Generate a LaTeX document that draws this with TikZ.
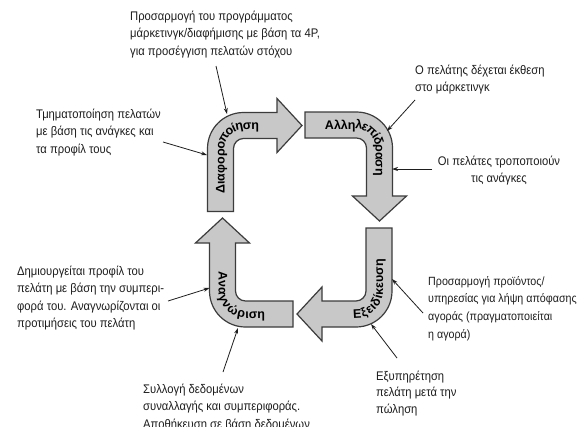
\documentclass[tikz,border=0pt]{standalone}
\usepackage{fontspec}
\setmainfont{Liberation Sans}[FakeStretch=0.9]
\newfontfamily\bandfont{Liberation Sans}
\usetikzlibrary{arrows.meta,decorations.text}

\definecolor{bandfill}{RGB}{200,200,200}
\definecolor{bandline}{RGB}{60,60,60}
\definecolor{inkc}{RGB}{30,30,30}

% geometry of the bent block arrows (pt)
\def\bw{26}   % band width
\def\ro{36}   % outer corner radius
\def\ri{10}   % inner corner radius
\def\rc{23}   % radius of the centre line
\def\hc{13}   % half band width
\def\ov{14}   % overhang of the head on each side
\def\hl{25}   % head length
\def\bandstyle{\bandfont\bfseries\fontsize{12.5}{14}\selectfont}

% #1 outer corner, #2 rotation, #3 tail length, #4 distance to head base
\newcommand\bentarrow[4]{%
  \begin{scope}[shift={#1}, rotate=#2]
    \path[band] (0,#3) -- (0,\ro) arc (180:270:\ro) -- (#4,0) -- (#4,-\ov)
      -- ({#4+\hl},\hc) -- (#4,{\bw+\ov}) -- (#4,\bw) -- ({\bw+\ri},\bw)
      arc (270:180:\ri) -- (\bw,#3) -- cycle;
  \end{scope}}

% label running from the tail towards the head
\newcommand\labeltailhead[5]{%
  \begin{scope}[shift={#1}, rotate=#2]
    \path[decorate, decoration={text along path, text align=center, raise=-4pt,
        text={|\bandstyle|#5}}]
      (\hc,#3) -- (\hc,\ro) arc (180:270:\rc) -- (#4,\hc);
  \end{scope}}

% label running from the head base back to the tail
\newcommand\labelheadtail[5]{%
  \begin{scope}[shift={#1}, rotate=#2]
    \path[decorate, decoration={text along path, text align=center, raise=-4pt,
        text={|\bandstyle|#5}}]
      (#4,\hc) -- (\ro,\hc) arc (270:180:\rc) -- (\hc,#3);
  \end{scope}}

\begin{document}
\begin{tikzpicture}[x=1pt,y=-1pt,
  note/.style={anchor=north west, inner sep=0pt, align=left,
    font=\fontsize{12.5}{17.3}\selectfont, text=inkc},
  pointer/.style={draw=inkc, line width=0.8pt, -{Stealth[length=6pt,width=4pt]}},
  band/.style={fill=bandfill, draw=bandline, line width=1.2pt, line join=miter},
]
\useasboundingbox (0,0) rectangle (583,426);
\fill[white] (0,0) rectangle (583,426);
\clip (0,0) rectangle (583,426);

% the four bent arrows of the cycle
\bentarrow{(207.5,112.5)}{0}{99}{69.5}
\bentarrow{(392.5,112)}{-90}{87.5}{84}
\bentarrow{(392,327)}{180}{99}{70}
\bentarrow{(209.5,327)}{90}{83.5}{84}

\labeltailhead{(207.5,112.5)}{0}{99}{69.5}{Διαφοροποίηση}
\labeltailhead{(392.5,112)}{-90}{87.5}{84}{Αλληλεπίδραση}
\labelheadtail{(392,327)}{180}{99}{70}{Εξειδίκευση}
\labelheadtail{(209.5,327)}{90}{83.5}{84}{Αναγνώριση}

% explanatory notes
\node[note] (t1) at (130,11) {Προσαρμογή του προγράμματος\\μάρκετινγκ/διαφήμισης με βάση τα 4P,\\για προσέγγιση πελατών στόχου};
\node[note] (t2) at (36,109) {Τμηματοποίηση πελατών\\με βάση τις ανάγκες και\\τα προφίλ τους};
\node[note] (t3) at (415,65) {Ο πελάτης δέχεται έκθεση\\στο μάρκετινγκ};
\node[note, anchor=north, align=center] (t4) at (499,156) {Οι πελάτες τροποποιούν\\τις ανάγκες};
\node[note] (t5) at (17,266) {Δημιουργείται προφίλ του\\πελάτη με βάση την συμπερι-\\φορά του. Αναγνωρίζονται οι\\προτιμήσεις του πελάτη};
\node[note, font=\fontsize{11.9}{17.8}\selectfont] (t6) at (428,276) {Προσαρμογή προϊόντος/\\υπηρεσίας για λήψη απόφασης\\αγοράς (πραγματοποιείται\\η αγορά)};
\node[note, font=\fontsize{12.5}{16.2}\selectfont] (t7) at (376,371) {Εξυπηρέτηση\\πελάτη μετά την\\πώληση};
\node[note] (t8) at (143,384) {Συλλογή δεδομένων\\συναλλαγής και συμπεριφοράς.\\Αποθήκευση σε βάση δεδομένων};

% pointer lines from the notes to the arrows
\coordinate (a1) at (216,66);  \coordinate (a2) at (227,114);
\coordinate (b1) at (163,142); \coordinate (b2) at (207,155);
\coordinate (c1) at (415,100); \coordinate (c2) at (387,131);
\coordinate (d1) at (432,169); \coordinate (d2) at (392,169);
\coordinate (e1) at (168,301); \coordinate (e2) at (209.5,288);
\coordinate (f1) at (223,372); \coordinate (f2) at (238,328);
\coordinate (g1) at (423,313); \coordinate (g2) at (392,279);
\coordinate (h1) at (397,358); \coordinate (h2) at (371,324);
\draw[pointer] (a1) -- (a2);
\draw[pointer] (b1) -- (b2);
\draw[pointer] (c1) -- (c2);
\draw[pointer] (d1) -- (d2);
\draw[pointer] (e1) -- (e2);
\draw[pointer] (f1) -- (f2);
\draw[pointer] (g1) -- (g2);
\draw[pointer] (h1) -- (h2);
\end{tikzpicture}
\end{document}
